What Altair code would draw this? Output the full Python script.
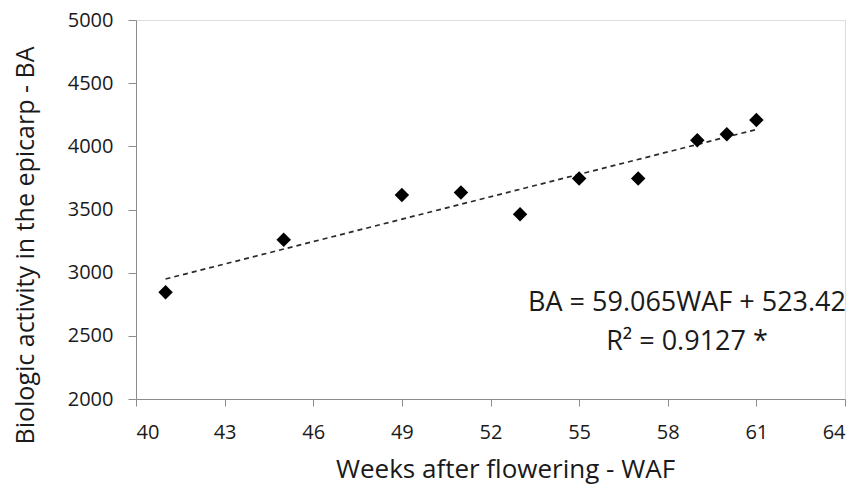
import altair as alt
import pandas as pd

# Data
waf = [41, 45, 49, 51, 53, 55, 57, 59, 60, 61]
ba = [2845, 3260, 3615, 3635, 3462, 3745, 3745, 4048, 4096, 4208]

x_ticks = [40, 43, 46, 49, 52, 55, 58, 61, 64]
y_ticks = [2000, 2500, 3000, 3500, 4000, 4500, 5000]

eq_lines = ["BA = 59.065WAF + 523.42", "R\u00b2 = 0.9127 *"]

df = pd.DataFrame({"WAF": waf, "BA": ba})

FONT = "Open Sans"
AXIS_GRAY = "#8c8c8c"
TEXT = "#1a1a1a"

x_enc = alt.X(
    "WAF:Q",
    scale=alt.Scale(domain=[40, 64], nice=False, zero=False),
    axis=alt.Axis(
        values=x_ticks,
        format="d",
        title="Weeks after flowering - WAF",
        grid=False,
        domainColor=AXIS_GRAY,
        tickColor=AXIS_GRAY,
        tickSize=7,
        labelPadding=16,
        labelFontSize=20,
        labelFont=FONT,
        labelColor=TEXT,
        titleFont=FONT,
        titleFontSize=26,
        titleFontWeight="normal",
        titleColor=TEXT,
        titleX=369,
        titleY=78,
        titleBaseline="alphabetic",
        titleAlign="center",
    ),
)
y_enc = alt.Y(
    "BA:Q",
    scale=alt.Scale(domain=[2000, 5000], nice=False, zero=False),
    axis=alt.Axis(
        values=y_ticks,
        format="d",
        title="Biologic activity in the epicarp - BA",
        grid=False,
        domainColor=AXIS_GRAY,
        tickColor=AXIS_GRAY,
        tickSize=8,
        labelPadding=15,
        labelFontSize=20,
        labelFont=FONT,
        labelColor=TEXT,
        titleFont=FONT,
        titleFontSize=25,
        titleFontWeight="normal",
        titleColor=TEXT,
        titleX=-111,
        titleY=225,
        titleAngle=-90,
        titleBaseline="middle",
        titleAlign="center",
    ),
)

base = alt.Chart(df)

points = base.mark_point(
    shape="diamond", filled=True, color="black", size=210, opacity=1
).encode(x=x_enc, y=y_enc)

trend = (
    base.transform_regression("WAF", "BA", method="linear")
    .mark_line(color="#2a2a2a", strokeWidth=1.7, strokeDash=[5, 4])
    .encode(x="WAF:Q", y="BA:Q")
)

ann1 = alt.Chart(pd.DataFrame({"t": [eq_lines[0]]})).mark_text(
    font=FONT, fontSize=27, color=TEXT, align="center", baseline="middle"
).encode(text="t:N", x=alt.value(551), y=alt.value(283))
ann2 = alt.Chart(pd.DataFrame({"t": [eq_lines[1]]})).mark_text(
    font=FONT, fontSize=27, color=TEXT, align="center", baseline="middle"
).encode(text="t:N", x=alt.value(551), y=alt.value(322))

chart = (
    alt.layer(trend, points, ann1, ann2)
    .properties(
        width=709,
        height=379,
        autosize=alt.AutoSizeParams(type="none"),
        padding={"left": 128, "top": 12, "right": 10, "bottom": 88},
    )
    .configure_view(stroke=None)
    .configure(background="white")
)

chart.save("out.html", embed_options={"renderer": "svg", "actions": False})
